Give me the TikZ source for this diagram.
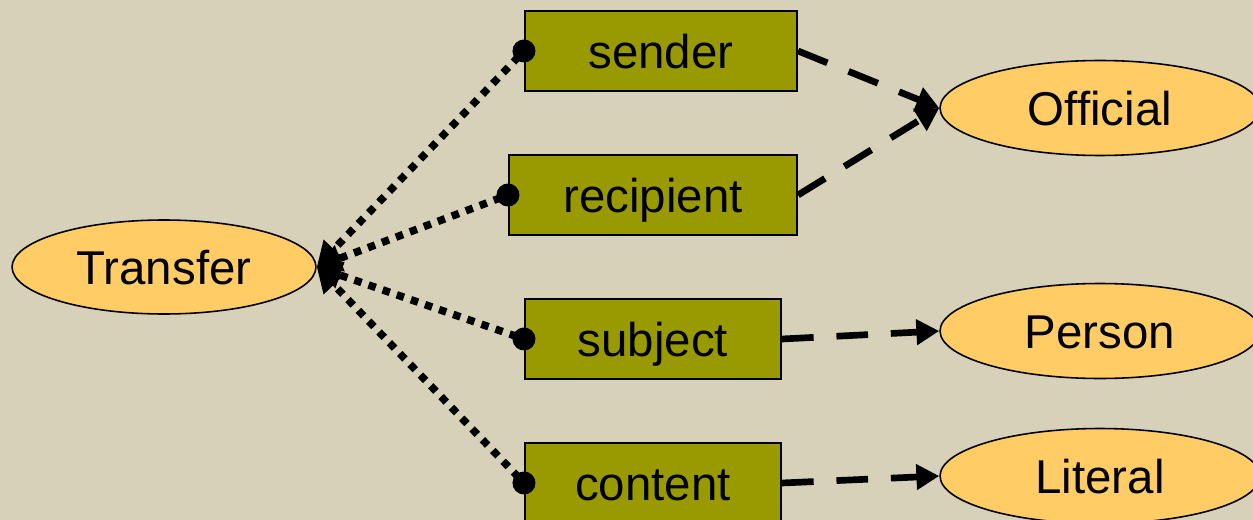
\documentclass[tikz,border=0pt]{standalone}
\usepackage{fontspec}
\setmainfont{Liberation Sans}
\usetikzlibrary{shapes.geometric,arrows.meta}
\definecolor{bgtan}{HTML}{D7D1B9}
\definecolor{slotolive}{HTML}{999900}
\definecolor{ovalgold}{HTML}{FFCC66}

\begin{document}
\begin{tikzpicture}[x=0.02cm, y=-0.02cm,
    slot/.style={rectangle, draw, line width=1.2pt, fill=slotolive, minimum height=1.6cm, inner sep=0pt, font=\fontsize{27}{32}\selectfont, text height=19.5pt, text depth=0pt},
    oval/.style={ellipse, draw, line width=0.9pt, fill=ovalgold, minimum height=1.9cm, minimum width=6.4cm, inner sep=0pt, font=\fontsize{27}{32}\selectfont, text height=19.5pt, text depth=0pt},
    rolelink/.style={line width=4.3pt, dash pattern=on 4.3pt off 4.2pt, {Circle[length=13pt]}-{Triangle[length=14pt,width=15pt]}, shorten <=-6.5pt},
    rangelink/.style={line width=3.8pt, dash pattern=on 18pt off 13pt, -{Triangle[length=13pt,width=14pt]}}]
                    \useasboundingbox (0,0) rectangle (1253,520);
                    \fill[bgtan] (0,0) rectangle (1253,520);
                    \node[oval, minimum width=6.08cm, minimum height=1.88cm] (transfer) at (164, 267) {Transfer};
                    \node[slot, minimum width=5.44cm] (sender) at (661, 51) {sender};
                    \node[slot, minimum width=5.76cm] (recipient) at (653, 195) {recipient};
                    \node[slot, minimum width=5.12cm] (subject) at (653, 339) {subject};
                    \node[slot, minimum width=5.12cm] (content) at (653, 483) {content};
                    \node[oval] (official) at (1100, 108) {Official};
                    \node[oval] (person) at (1100, 331) {Person};
                    \node[oval] (literal) at (1100, 476) {Literal};
                    \draw[rolelink] (sender.west) -- (transfer.east);
                    \draw[rolelink] (recipient.west) -- (transfer.east);
                    \draw[rolelink] (subject.west) -- (transfer.east);
                    \draw[rolelink] (content.west) -- (transfer.east);
                    \draw[rangelink] (sender.east) -- (official.west);
                    \draw[rangelink] (recipient.east) -- (official.west);
                    \draw[rangelink] (subject.east) -- (person.west);
                    \draw[rangelink] (content.east) -- (literal.west);
                \end{tikzpicture}
\end{document}
